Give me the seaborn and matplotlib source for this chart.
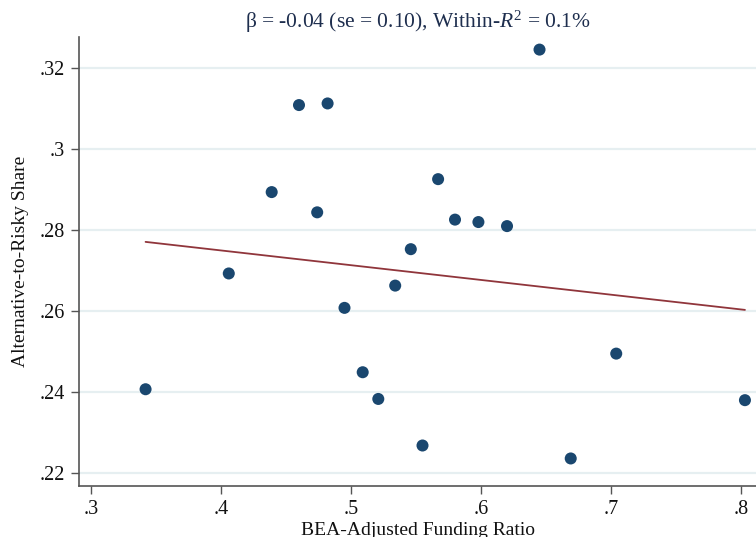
import numpy as np
import matplotlib
matplotlib.use("Agg")
import matplotlib.pyplot as plt
import pandas as pd
import seaborn as sns

# scatter points
funding_ratio = [0.342, 0.406, 0.439, 0.460, 0.474, 0.482, 0.495, 0.509, 0.521, 0.534,
                 0.546, 0.555, 0.567, 0.580, 0.598, 0.620, 0.645, 0.669, 0.704, 0.803]
alt_share = [0.2407, 0.2693, 0.2894, 0.3109, 0.2844, 0.3113, 0.2608, 0.2449, 0.2383, 0.2663,
             0.2753, 0.2268, 0.2926, 0.2826, 0.2820, 0.2810, 0.3246, 0.2236, 0.2495, 0.2380]

# fitted line endpoints
fit_x = [0.342, 0.803]
fit_y = [0.2771, 0.2603]

x_ticks = [0.3, 0.4, 0.5, 0.6, 0.7, 0.8]
x_labels = [".3", ".4", ".5", ".6", ".7", ".8"]
y_ticks = [0.22, 0.24, 0.26, 0.28, 0.30, 0.32]
y_labels = [".22", ".24", ".26", ".28", ".3", ".32"]

title = r"β = -0.04 (se = 0.10), Within-$R^{2}$ = 0.1%"

sns.set_theme(style="white")
plt.rcParams['font.family'] = ['Liberation Serif', 'DejaVu Serif']
plt.rcParams['mathtext.fontset'] = 'custom'
plt.rcParams['mathtext.rm'] = 'Liberation Serif'
plt.rcParams['mathtext.it'] = 'Liberation Serif:italic'

df = pd.DataFrame({"x": funding_ratio, "y": alt_share})
fit_df = pd.DataFrame({"x": fit_x, "y": fit_y})

fig = plt.figure(figsize=(7.56, 5.37), dpi=100)
ax = fig.add_axes([0.1045, 0.095, 0.8955, 0.836])

for t in y_ticks:
    ax.axhline(t, color="#e6eff1", linewidth=1.6, zorder=0)

sns.lineplot(data=fit_df, x="x", y="y", ax=ax, color="#90353b", linewidth=1.3, zorder=2)
sns.scatterplot(data=df, x="x", y="y", ax=ax, color="#1a476f", s=75, edgecolor="none",
                linewidth=0, zorder=3)

ax.set_xlim(0.2908, 0.8115)
ax.set_ylim(0.2168, 0.3277)
ax.set_xticks(x_ticks)
ax.set_xticklabels(x_labels)
ax.set_yticks(y_ticks)
ax.set_yticklabels(y_labels)
ax.tick_params(axis="both", direction="out", length=6, width=1, color="#555555",
               labelsize=14.5, labelcolor="#111111", pad=4)
ax.tick_params(axis="both", which="both", bottom=True, left=True)

for side in ["top", "right"]:
    ax.spines[side].set_visible(False)
for side in ["left", "bottom"]:
    ax.spines[side].set_color("#555555")
    ax.spines[side].set_linewidth(1.2)

ax.set_xlabel("BEA-Adjusted Funding Ratio", fontsize=14, color="#111111", labelpad=2)
ax.set_ylabel("Alternative-to-Risky Share", fontsize=14, color="#111111", labelpad=8)
ax.set_title(title, fontsize=15.5, color="#1e2e4e", pad=7)

fig.savefig("out.png", dpi=100)
